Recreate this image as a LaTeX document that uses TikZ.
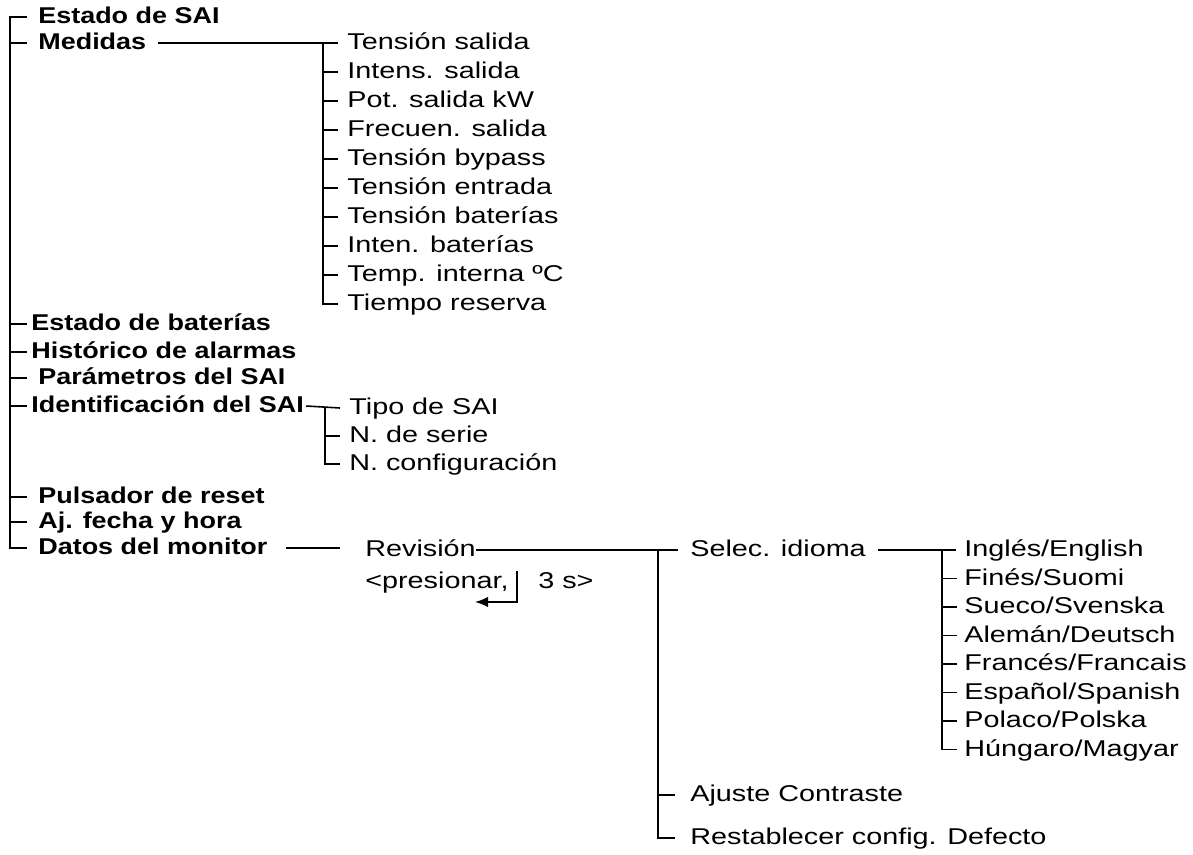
\documentclass[tikz,border=0pt]{standalone}
\usepackage{fontspec}
\setmainfont{Liberation Sans}[FakeStretch=1.26]
\newfontfamily\boldmenu{Liberation Sans}[FakeStretch=1.18]
\usepackage{tikz}
\usetikzlibrary{arrows.meta,calc}
\newcommand{\menufont}{\fontsize{13}{15}\selectfont}
\tikzset{
  menu/.style={anchor=west,inner sep=0pt,font=\boldmenu\menufont\bfseries,
              text height=9.3pt,text depth=1.5pt},
  sub/.style={anchor=west,inner sep=0pt,font=\menufont,
              text height=9.3pt,text depth=1.5pt},
  branch/.style={line width=0.9pt,draw=black},
  ret/.style={line width=0.9pt,-{Latex[length=7.5pt,width=6pt]}},
}
\begin{document}
\begin{tikzpicture}[x=0.02cm,y=-0.02cm]
  \useasboundingbox (0,0) rectangle (1193,855);
  % main menu
  \node[menu] (sai) at (38,17) {Estado de SAI};
  \node[menu] (medidas) at (38,43) {Medidas};
  \node[menu] (bat) at (31,324) {Estado de baterías};
  \node[menu] (hist) at (31,352) {Histórico de alarmas};
  \node[menu] (param) at (38,378) {Parámetros del SAI};
  \node[menu] (ident) at (31,406) {Identificación del SAI};
  \node[menu] (reset) at (38,497) {Pulsador de reset};
  \node[menu] (fecha) at (38,522) {Aj. fecha y hora};
  \node[menu] (monitor) at (38,548) {Datos del monitor};
  \coordinate (trunk) at (10,0);
  \draw[branch] (trunk |- sai.west) ++(17,0) -- (trunk |- sai.west)
    -- (trunk |- monitor.west) -- ++(17,0);
  \foreach \n in {medidas,bat,hist,param,ident,reset,fecha}
    \draw[branch] (trunk |- \n.west) -- ++(17,0);

  % medidas
  \foreach \t [count=\i] in {Tensión salida,Intens. salida,Pot. salida kW,
      Frecuen. salida,Tensión bypass,Tensión entrada,Tensión baterías,
      Inten. baterías,Temp. interna ºC,Tiempo reserva}
    \node[sub] (m\i) at (347,14+29*\i) {\t};
  \coordinate (mbr) at (323,0);
  \draw[branch] ($(medidas.east)+(11,0)$) -- ($(m1.west)+(-9,0)$);
  \draw[branch] (mbr |- m1.west) -- (mbr |- m10.west) -- ++(15,0);
  \foreach \i in {2,...,9}
    \draw[branch] (mbr |- m\i.west) -- ++(15,0);

  % identificacion
  \node[sub] (id1) at (349,408) {Tipo de SAI};
  \node[sub] (id2) at (349,436) {N. de serie};
  \node[sub] (id3) at (349,464) {N. configuración};
  \coordinate (ibr) at (325,0);
  \draw[branch] ($(ident.east)+(2,0)$) -- ($(id1.west)+(-9,0)$);
  \draw[branch] (ibr |- id1.west) -- (ibr |- id3.west) -- ++(15,0);
  \draw[branch] (ibr |- id2.west) -- ++(15,0);

  % datos del monitor
  \node[sub] (rev) at (365,550) {Revisión};
  \node[sub] (press) at (365,582) {<presionar,};
  \node[sub] (secs) at (538,582) {3 s>};
  \coordinate (retpt) at (517,571);
  \draw[branch] ($(monitor.east)+(18,0)$) -- ($(monitor.east -| rev.west)+(-25,0)$);
  \draw[ret] (retpt) |- ++(-42,31);

  \node[sub] (idioma) at (690,550) {Selec. idioma};
  \node[sub] (contraste) at (690,795) {Ajuste Contraste};
  \node[sub] (defecto) at (690,838) {Restablecer config. Defecto};
  \coordinate (rbr) at (658,0);
  \draw[branch] (rev.east) -- ($(idioma.west)+(-12,0)$);
  \draw[branch] (rbr |- idioma.west) -- (rbr |- defecto.west) -- ++(17,0);
  \draw[branch] (rbr |- contraste.west) -- ++(17,0);

  % idiomas
  \foreach \t [count=\i] in {Inglés/English,Finés/Suomi,Sueco/Svenska,
      Alemán/Deutsch,Francés/Francais,Español/Spanish,Polaco/Polska,
      Húngaro/Magyar}
    \node[sub] (l\i) at (964,521.5+28.5*\i) {\t};
  \coordinate (lbr) at (942,0);
  \draw[branch] ($(idioma.east)+(12,0)$) -- ($(l1.west)+(-8,0)$);
  \draw[branch] (lbr |- l1.west) -- (lbr |- l8.west) -- ++(15,0);
  \foreach \i in {2,...,7}
    \draw[branch] (lbr |- l\i.west) -- ++(15,0);
\end{tikzpicture}
\end{document}
